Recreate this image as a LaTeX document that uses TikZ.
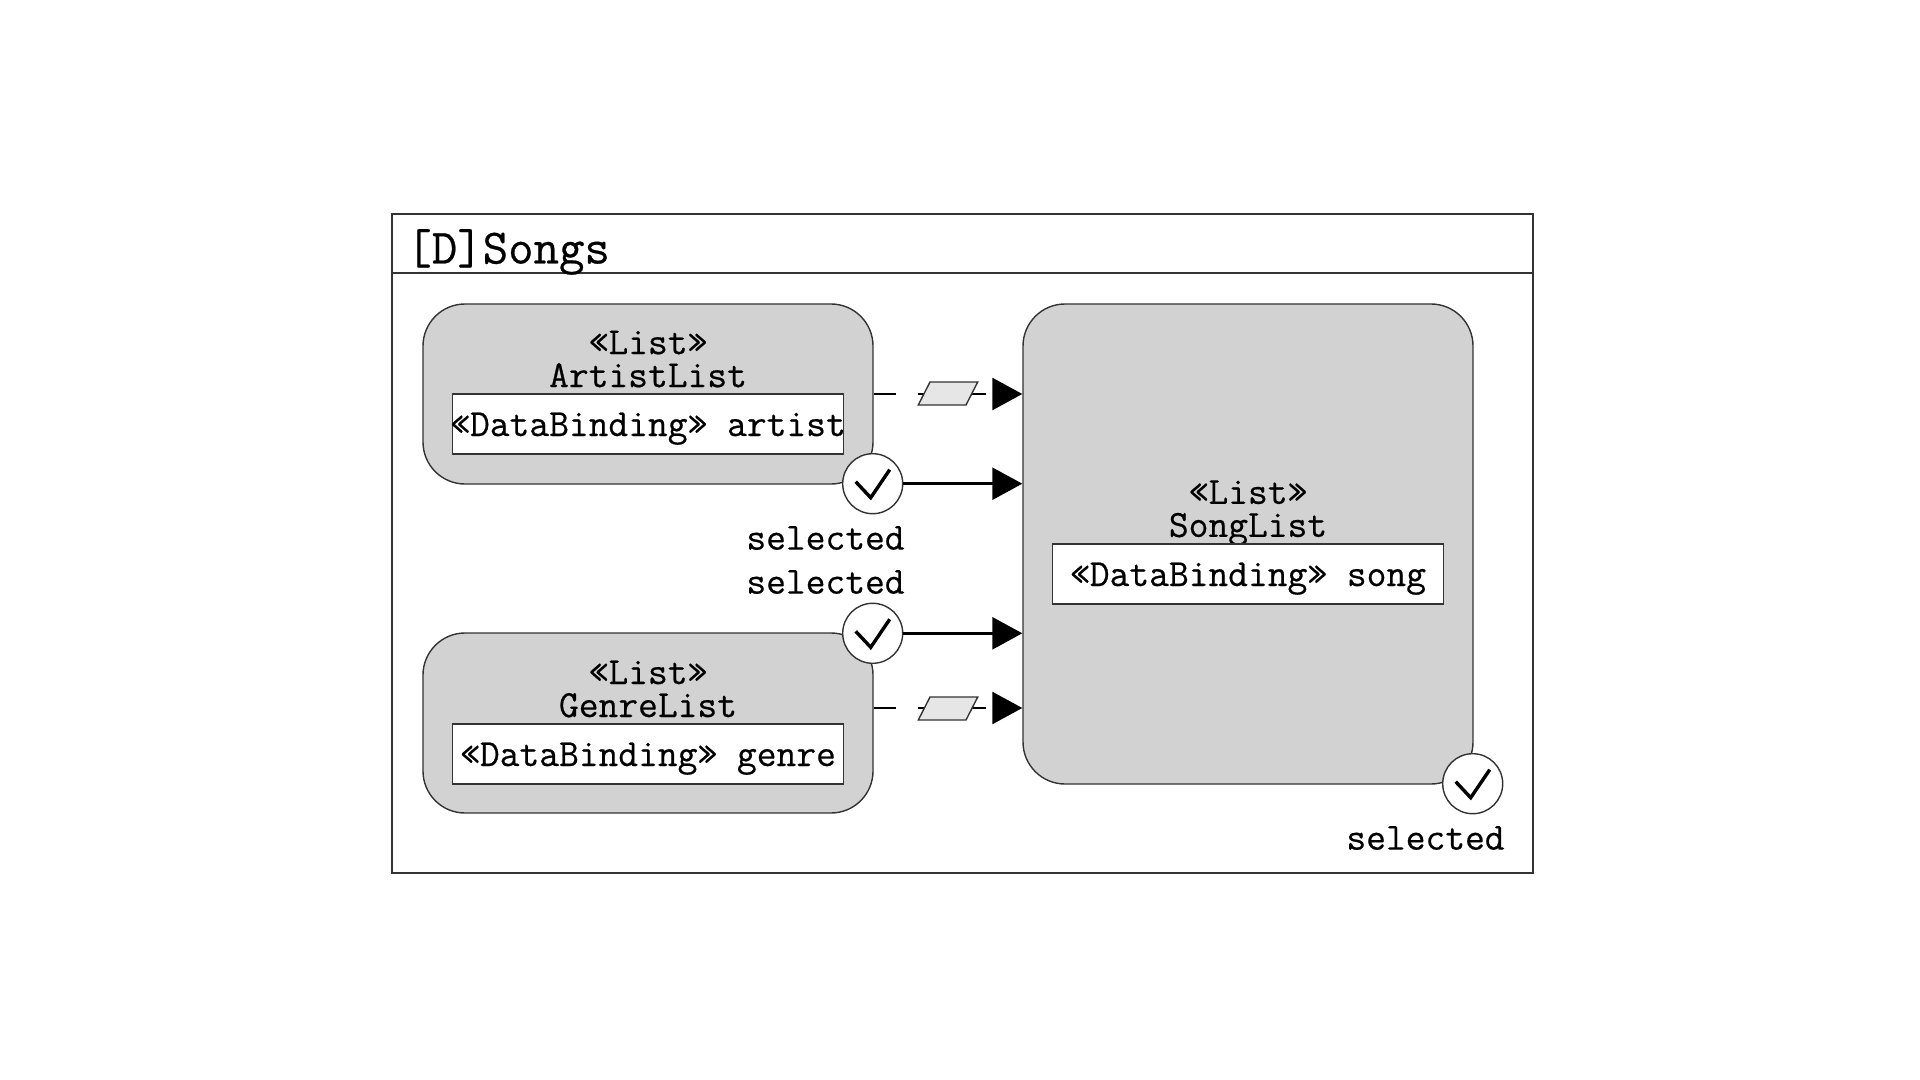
\documentclass[tikz,border=0pt]{standalone}
\usepackage{fontspec}
\usepackage{tikz}
\usetikzlibrary{shapes.geometric,arrows.meta}
\newfontfamily\monofont[FakeBold=0.5]{Latin Modern Mono}
\definecolor{boxgrey}{HTML}{D2D2D2}
\definecolor{datagrey}{HTML}{E6E6E6}
\definecolor{edge}{HTML}{333333}
\tikzset{
  frame/.style={rectangle,draw=edge,line width=.7pt,inner sep=0,minimum width=570.5pt},
  listbox/.style={rectangle,rounded corners=21pt,draw=edge,fill=boxgrey,line width=.7pt,inner sep=0,minimum width=225pt},
  bindbox/.style={rectangle,draw=edge,fill=white,line width=.7pt,inner sep=0,minimum width=195.5pt,minimum height=30pt,text height=12pt,text depth=0pt},
  mono/.style={font=\monofont\fontsize{19.2}{16.5}\selectfont,align=center,inner sep=0},
  tickport/.style={circle,draw=edge,fill=white,line width=.7pt,inner sep=0,minimum size=30pt},
  tick/.style={line width=1.7pt,black},
  flow/.style={line width=1.3pt,black,-{Triangle[length=15pt,width=16pt]}},
  dataflow/.style={flow,dash pattern=on 11pt off 11pt on 34pt off 40pt},
  datapin/.style={trapezium,trapezium left angle=63,trapezium right angle=117,draw=edge,fill=datagrey,line width=.7pt,inner sep=1pt,text width=16pt,text height=9.5pt}
}
\begin{document}
\begin{tikzpicture}[x=.5pt,y=-.5pt]
\useasboundingbox (0,0) rectangle (1920,1080);
% outer frame and title
\node at (962.5,543.5) [frame,minimum height=329.5pt] (frame) {};
\node at (962.5,243.5) [frame,minimum height=29.5pt] (titlebar) {};
\node at (406,252) [mono,anchor=west,font=\monofont\fontsize{24.7}{28}\selectfont] (title) {[D]Songs};
% lists
\node at (648,394) [listbox,minimum height=90pt] (ArtistList) {};
\node at (648,723) [listbox,minimum height=90pt] (GenreList) {};
\node at (1248,544) [listbox,minimum height=240pt] (SongList) {};
\node at (648,359) [mono] (artistname) {«List»\\ArtistList};
\node at (648,689) [mono] (genrename) {«List»\\GenreList};
\node at (1248,513) [mono] (songname) {«List»\\SongList};
\node at (648,424) [bindbox,mono] (artistbind) {\makebox[0pt]{«DataBinding» artist}};
\node at (648,754) [bindbox,mono] (genrebind) {«DataBinding» genre};
\node at (1248,574) [bindbox,mono] (songbind) {«DataBinding» song};
% selection ports
\node at ([xshift=-.5pt,yshift=.5pt]ArtistList.south east) [tickport] (artistport) {};
\node at ([xshift=-.5pt,yshift=-.5pt]GenreList.north east) [tickport] (genreport) {};
\node at ([xshift=-.5pt,yshift=.5pt]SongList.south east) [tickport] (songport) {};
\draw[tick] ([shift={(-17,-2)}]artistport.center) -- ++(15,16) -- ++(19,-28);
\draw[tick] ([shift={(-17,-2)}]genreport.center) -- ++(15,16) -- ++(19,-28);
\draw[tick] ([shift={(-17,-2)}]songport.center) -- ++(15,16) -- ++(19,-28);
\node at (905,538) [mono,anchor=east] (artistsel) {selected};
\node at (905,582) [mono,anchor=east] (genresel) {selected};
\node at (1505,838) [mono,anchor=east] (songsel) {selected};
% connectors
\draw[flow] (artistport) -- (artistport -| SongList.west);
\draw[flow] (genreport) -- (genreport -| SongList.west);
\draw[dataflow] (ArtistList.east) -- (ArtistList.east -| SongList.west);
\draw[dataflow] ([yshift=7.5pt]GenreList.east) -- ([yshift=7.5pt]GenreList.east -| SongList.west);
\node at (948,393.5) [datapin] (artistdata) {};
\node at (948,708.5) [datapin] (genredata) {};
\end{tikzpicture}
\end{document}
